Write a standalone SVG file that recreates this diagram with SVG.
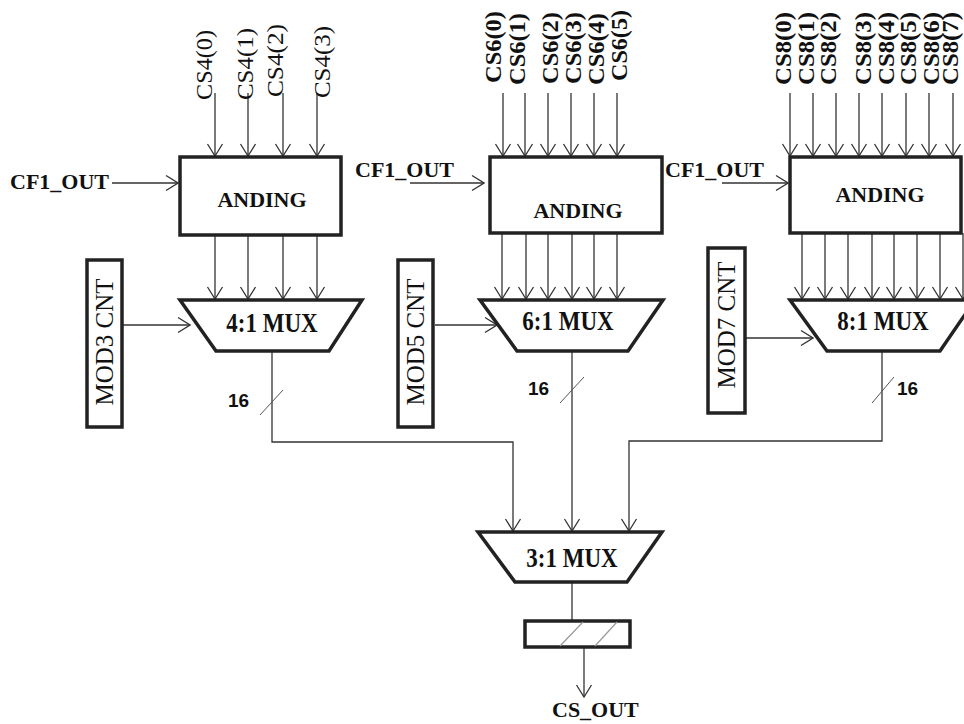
<svg xmlns="http://www.w3.org/2000/svg" width="964" height="724" viewBox="0 0 964 724">
<style>
.box{fill:#fff;stroke:#222;stroke-width:3.5;stroke-linejoin:miter}
.ln{fill:none;stroke:#333;stroke-width:1.3}
.ar{fill:none;stroke:#333;stroke-width:1.3;marker-end:url(#ah)}
.sl{stroke:#555;stroke-width:1}
.gs{stroke:#999;stroke-width:1.2}
.t{font-family:"Liberation Serif","Times New Roman",serif;fill:#111}
.b{font-weight:bold}
.cs{font-size:23px}
.big{font-size:22px;font-weight:bold}
.mux{font-size:23px;font-weight:bold;text-anchor:middle}
.mod{font-size:25px;text-anchor:middle}
.n{font-family:"Liberation Sans",Arial,sans-serif;font-weight:bold;font-size:19px;fill:#111}
</style>
<defs>
<marker id="ah" viewBox="-1 -9 14 18" refX="12" refY="0" markerWidth="14" markerHeight="18" markerUnits="userSpaceOnUse" orient="auto">
<path d="M0,-7.5 L12,0 L0,7.5" fill="none" stroke="#333" stroke-width="1.3"/>
</marker>
</defs>

<g id="connectors">
<line class="ar" x1="215" y1="93" x2="215" y2="156"/>
<line class="ar" x1="248" y1="93" x2="248" y2="156"/>
<line class="ar" x1="283" y1="93" x2="283" y2="156"/>
<line class="ar" x1="317" y1="93" x2="317" y2="156"/>
<line class="ar" x1="112" y1="183" x2="178" y2="183"/>
<line class="ar" x1="215" y1="235" x2="215" y2="299"/>
<line class="ar" x1="248" y1="235" x2="248" y2="299"/>
<line class="ar" x1="283" y1="235" x2="283" y2="299"/>
<line class="ar" x1="317" y1="235" x2="317" y2="299"/>
<line class="ar" x1="123" y1="325" x2="190" y2="325"/>
<line class="ar" x1="503" y1="93" x2="503" y2="156"/>
<line class="ar" x1="525" y1="93" x2="525" y2="156"/>
<line class="ar" x1="548" y1="93" x2="548" y2="156"/>
<line class="ar" x1="571" y1="93" x2="571" y2="156"/>
<line class="ar" x1="594" y1="93" x2="594" y2="156"/>
<line class="ar" x1="617" y1="93" x2="617" y2="156"/>
<line class="ar" x1="410" y1="183" x2="484" y2="183"/>
<line class="ar" x1="502" y1="233" x2="502" y2="299"/>
<line class="ar" x1="526" y1="233" x2="526" y2="299"/>
<line class="ar" x1="548" y1="233" x2="548" y2="299"/>
<line class="ar" x1="572" y1="233" x2="572" y2="299"/>
<line class="ar" x1="594" y1="233" x2="594" y2="299"/>
<line class="ar" x1="617" y1="233" x2="617" y2="299"/>
<line class="ar" x1="435" y1="325" x2="497" y2="325"/>
<line class="ar" x1="790" y1="93" x2="790" y2="156"/>
<line class="ar" x1="813" y1="93" x2="813" y2="156"/>
<line class="ar" x1="836" y1="93" x2="836" y2="156"/>
<line class="ar" x1="859" y1="93" x2="859" y2="156"/>
<line class="ar" x1="882" y1="93" x2="882" y2="156"/>
<line class="ar" x1="906" y1="93" x2="906" y2="156"/>
<line class="ar" x1="929" y1="93" x2="929" y2="156"/>
<line class="ar" x1="953" y1="93" x2="953" y2="156"/>
<line class="ar" x1="722" y1="183" x2="788" y2="183"/>
<line class="ar" x1="802" y1="233" x2="802" y2="299"/>
<line class="ar" x1="825" y1="233" x2="825" y2="299"/>
<line class="ar" x1="848" y1="233" x2="848" y2="299"/>
<line class="ar" x1="872" y1="233" x2="872" y2="299"/>
<line class="ar" x1="894" y1="233" x2="894" y2="299"/>
<line class="ar" x1="917" y1="233" x2="917" y2="299"/>
<line class="ar" x1="940" y1="233" x2="940" y2="299"/>
<line class="ar" x1="963" y1="233" x2="963" y2="299"/>
<line class="ar" x1="746" y1="338" x2="813" y2="338"/>
<polyline class="ar" points="272,351 272,442 513,442 513,531"/>
<line class="ar" x1="572" y1="351" x2="572" y2="531"/>
<polyline class="ar" points="882,351 882,441 629,441 629,531"/>
<line class="sl" x1="260" y1="415" x2="283" y2="390"/>
<line class="sl" x1="560" y1="403" x2="584" y2="377"/>
<line class="sl" x1="872" y1="403" x2="894" y2="377"/>
<line class="ln" x1="572" y1="582" x2="572" y2="621"/>
<line class="ar" x1="584" y1="647" x2="584" y2="697"/>
</g>

<g id="labels-cs4">
<text class="t cs" transform="translate(212,100) rotate(-90)" textLength="70" lengthAdjust="spacingAndGlyphs">CS4(0)</text>
<text class="t cs" transform="translate(253,100) rotate(-90)" textLength="72" lengthAdjust="spacingAndGlyphs">CS4(1)</text>
<text class="t cs" transform="translate(283,97) rotate(-90)" textLength="73" lengthAdjust="spacingAndGlyphs">CS4(2)</text>
<text class="t cs" transform="translate(330,98) rotate(-90)" textLength="72" lengthAdjust="spacingAndGlyphs">CS4(3)</text>
</g>
<g id="labels-cs6">
<text class="t cs b" transform="translate(501,83) rotate(-90)" textLength="72" lengthAdjust="spacingAndGlyphs">CS6(0)</text>
<text class="t cs b" transform="translate(525,85) rotate(-90)" textLength="72" lengthAdjust="spacingAndGlyphs">CS6(1)</text>
<text class="t cs b" transform="translate(558,84) rotate(-90)" textLength="72" lengthAdjust="spacingAndGlyphs">CS6(2)</text>
<text class="t cs b" transform="translate(581,84) rotate(-90)" textLength="72" lengthAdjust="spacingAndGlyphs">CS6(3)</text>
<text class="t cs b" transform="translate(604,85) rotate(-90)" textLength="72" lengthAdjust="spacingAndGlyphs">CS6(4)</text>
<text class="t cs b" transform="translate(627,81) rotate(-90)" textLength="71" lengthAdjust="spacingAndGlyphs">CS6(5)</text>
</g>
<g id="labels-cs8">
<text class="t cs b" transform="translate(791,85) rotate(-90)" textLength="73" lengthAdjust="spacingAndGlyphs">CS8(0)</text>
<text class="t cs b" transform="translate(814,85) rotate(-90)" textLength="73" lengthAdjust="spacingAndGlyphs">CS8(1)</text>
<text class="t cs b" transform="translate(836,85) rotate(-90)" textLength="73" lengthAdjust="spacingAndGlyphs">CS8(2)</text>
<text class="t cs b" transform="translate(871,85) rotate(-90)" textLength="73" lengthAdjust="spacingAndGlyphs">CS8(3)</text>
<text class="t cs b" transform="translate(894,85) rotate(-90)" textLength="73" lengthAdjust="spacingAndGlyphs">CS8(4)</text>
<text class="t cs b" transform="translate(916,85) rotate(-90)" textLength="73" lengthAdjust="spacingAndGlyphs">CS8(5)</text>
<text class="t cs b" transform="translate(939,85) rotate(-90)" textLength="73" lengthAdjust="spacingAndGlyphs">CS8(6)</text>
<text class="t cs b" transform="translate(958,85) rotate(-90)" textLength="73" lengthAdjust="spacingAndGlyphs">CS8(7)</text>
</g>

<g id="cf1-1"><text class="t big" x="10" y="189">CF1_OUT</text></g>
<g id="cf1-2"><text class="t big" x="355" y="177">CF1_OUT</text></g>
<g id="cf1-3"><text class="t big" x="665" y="177">CF1_OUT</text></g>

<g id="anding1">
<rect class="box" x="180" y="157" width="161" height="78"/>
<text class="t big" x="262" y="207" text-anchor="middle">ANDING</text>
</g>
<g id="anding2">
<rect class="box" x="490" y="157" width="172" height="76"/>
<text class="t big" x="578" y="218" text-anchor="middle">ANDING</text>
</g>
<g id="anding3">
<rect class="box" x="790" y="157" width="171" height="76"/>
<text class="t big" x="880" y="202" text-anchor="middle">ANDING</text>
</g>

<g id="mod3">
<rect class="box" x="87" y="260" width="35" height="167"/>
<text class="t mod" transform="translate(113,342) rotate(-90)">MOD3 CNT</text>
</g>
<g id="mod5">
<rect class="box" x="398" y="260" width="35" height="167"/>
<text class="t mod" transform="translate(424,342) rotate(-90)">MOD5 CNT</text>
</g>
<g id="mod7">
<rect class="box" x="708" y="248" width="37" height="165"/>
<text class="t mod" transform="translate(735,325) rotate(-90)">MOD7 CNT</text>
</g>

<g id="mux4">
<polygon class="box" points="180,300 362,300 329,351 216,351"/>
<text class="t mux" transform="translate(272,332) scale(1,1.18)">4:1 MUX</text>
</g>
<g id="mux6">
<polygon class="box" points="480,300 663,300 628,351 517,351"/>
<text class="t mux" transform="translate(568,330) scale(1,1.18)">6:1 MUX</text>
</g>
<g id="mux8">
<polygon class="box" points="790,300 975,300 940,351 827,351"/>
<text class="t mux" transform="translate(883,330) scale(1,1.18)">8:1 MUX</text>
</g>

<g id="w16">
<text class="n" x="228" y="407">16</text>
<text class="n" x="528" y="395">16</text>
<text class="n" x="897" y="395">16</text>
</g>

<g id="mux3">
<polygon class="box" points="478,532 662,532 627,582 515,582"/>
<text class="t mux" transform="translate(572,567) scale(1,1.18)">3:1 MUX</text>
</g>

<g id="reg">
<rect class="box" x="525" y="621" width="105" height="26"/>
<line class="gs" x1="560" y1="646" x2="583" y2="622"/>
<line class="gs" x1="595" y1="646" x2="617" y2="622"/>
</g>

<g id="csout"><text class="t big" x="552" y="717">CS_OUT</text></g>
</svg>
